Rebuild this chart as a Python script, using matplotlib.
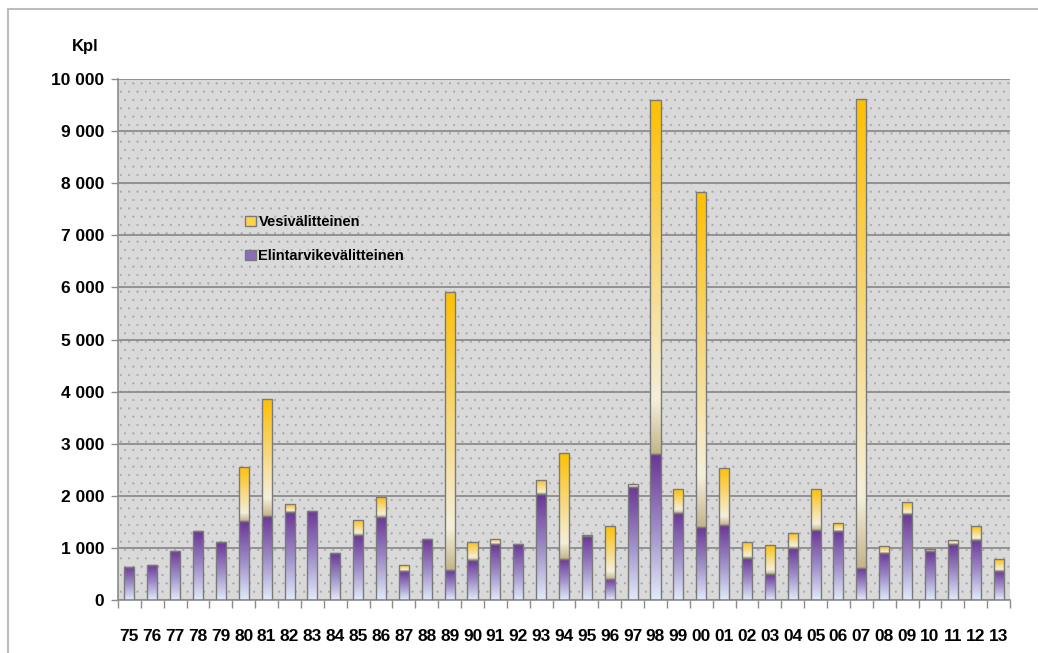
import numpy as np
import matplotlib
matplotlib.use('Agg')
import matplotlib.pyplot as plt
from matplotlib.colors import LinearSegmentedColormap
from matplotlib.patches import Rectangle, Patch
from matplotlib.ticker import FuncFormatter, MultipleLocator

years = ['75', '76', '77', '78', '79', '80', '81', '82', '83', '84', '85', '86', '87',
         '88', '89', '90', '91', '92', '93', '94', '95', '96', '97', '98', '99', '00',
         '01', '02', '03', '04', '05', '06', '07', '08', '09', '10', '11', '12', '13']
elintarvike = [640, 680, 950, 1320, 1110, 1510, 1620, 1690, 1710, 900, 1240, 1600, 550,
               1170, 570, 760, 1070, 1070, 2030, 790, 1220, 410, 2170, 2800, 1670, 1400,
               1430, 800, 490, 990, 1340, 1330, 610, 910, 1660, 940, 1070, 1160, 560]
vesi = [0, 0, 0, 0, 0, 1040, 2230, 150, 0, 0, 290, 380, 120,
        0, 5350, 360, 100, 0, 270, 2040, 20, 1010, 50, 6800, 460, 6440,
        1100, 320, 560, 290, 800, 140, 9010, 120, 230, 30, 90, 260, 230]

purple_cmap = LinearSegmentedColormap.from_list(
    'purple', [(0.0, '#e2ebfa'), (0.5, '#9d8cc6'), (1.0, '#6a3595')])
yellow_cmap = LinearSegmentedColormap.from_list(
    'yellow', [(0.0, '#c4b48a'), (0.15, '#f3efdb'), (0.55, '#f7d87a'), (1.0, '#ffc000')])

plt.rcParams['font.family'] = ['Liberation Sans', 'DejaVu Sans']
plt.rcParams['hatch.linewidth'] = 0.3

fig = plt.figure(figsize=(10.38, 6.53), dpi=100)
ax = fig.add_axes([118 / 1038, 1 - 600 / 653, 892 / 1038, 521 / 653])

# outer frame of the chart area
fig.patches.append(Rectangle((8 / 1038, -0.1), 1.2, 1 - 9 / 653 + 0.1, transform=fig.transFigure,
                             facecolor='none', edgecolor='#bdbdbd', linewidth=1.5))

# dotted plot background
ax.set_facecolor('#d9d9d9')
ax.add_patch(Rectangle((0, 0), 1, 1, transform=ax.transAxes, facecolor='#d9d9d9',
                       edgecolor='#a6a6a6', hatch='..', linewidth=0, zorder=0))

x = np.arange(len(years))
width = 0.44
grad = np.linspace(0, 1, 256).reshape(-1, 1)

bars_p = ax.bar(x, elintarvike, width, color='none', edgecolor='#7a7a7a', linewidth=1.0, zorder=3)
bars_v = ax.bar(x, vesi, width, bottom=elintarvike, color='none', edgecolor='#7a7a7a',
                linewidth=1.0, zorder=3)

for bars, cmap in [(bars_p, purple_cmap), (bars_v, yellow_cmap)]:
    for b in bars:
        if b.get_height() <= 0:
            continue
        x0, y0 = b.get_x(), b.get_y()
        im = ax.imshow(grad, cmap=cmap, origin='lower', aspect='auto',
                       extent=[x0, x0 + b.get_width(), y0, y0 + b.get_height()], zorder=2)
        im.set_clip_path(b)

ax.set_xlim(-0.5, len(years) - 0.5)
ax.set_ylim(0, 10000)

ax.yaxis.set_major_locator(MultipleLocator(1000))
ax.yaxis.set_major_formatter(FuncFormatter(lambda v, p: f'{int(v):,}'.replace(',', ' ')))
ax.grid(axis='y', color='#8c8c8c', linewidth=1.3, zorder=1)
ax.set_axisbelow(True)

# ticks between categories, labels at centres
ax.set_xticks(np.arange(-0.5, len(years), 1))
ax.set_xticklabels([])
ax.set_xticks(x, minor=True)
ax.set_xticklabels(years, minor=True, fontsize=12.5, fontweight='bold')
ax.tick_params(axis='x', which='major', length=6, color='#8c8c8c', width=1)
ax.tick_params(axis='x', which='minor', length=0, pad=21)
ax.tick_params(axis='y', length=5, color='#8c8c8c', width=1, pad=5)
for lab in ax.get_yticklabels():
    lab.set_fontsize(12.5)
    lab.set_fontweight('bold')

for s in ['top', 'right']:
    ax.spines[s].set_visible(False)
ax.spines['left'].set_color('#8c8c8c')
ax.spines['bottom'].set_color('#8c8c8c')
ax.spines['left'].set_linewidth(1.2)
ax.spines['bottom'].set_linewidth(1.2)

handles = [Patch(facecolor='#ffd24a', edgecolor='#7a7a7a', label='Vesivälitteinen'),
           Patch(facecolor='#8a6cbc', edgecolor='#7a7a7a', label='Elintarvikevälitteinen')]
leg = ax.legend(handles=handles, loc='upper left', bbox_to_anchor=(238 / 1038, 1 - 208 / 653),
                bbox_transform=fig.transFigure, frameon=False, handlelength=0.7, handleheight=0.7,
                handletextpad=0.2, labelspacing=1.35, borderpad=0,
                prop={'weight': 'bold', 'size': 10.5})

fig.text(85 / 1038, 1 - 47 / 653, 'Kpl', ha='center', va='center', fontsize=12, fontweight='bold')

fig.savefig('out.png', dpi=100)
